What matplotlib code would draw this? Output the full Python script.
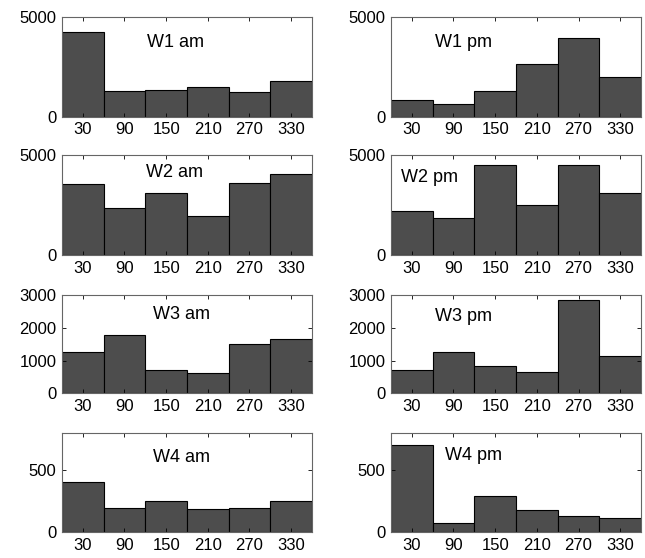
import matplotlib
matplotlib.use("Agg")
import matplotlib.pyplot as plt

plt.rcParams["font.family"] = ["Liberation Sans", "DejaVu Sans"]

centers = [30, 90, 150, 210, 270, 330]
tick_labels = ["30", "90", "150", "210", "270", "330"]

w1_am = [4220, 1300, 1310, 1470, 1220, 1770]
w1_pm = [830, 620, 1300, 2620, 3930, 2000]
w2_am = [3570, 2370, 3100, 1950, 3600, 4070]
w2_pm = [2180, 1840, 4470, 2510, 4470, 3120]
w3_am = [1260, 1770, 700, 610, 1500, 1650]
w3_pm = [720, 1260, 830, 640, 2870, 1150]
w4_am = [410, 200, 250, 185, 200, 250]
w4_pm = [705, 72, 297, 184, 128, 112]

titles = ["W1 am", "W1 pm", "W2 am", "W2 pm", "W3 am", "W3 pm", "W4 am", "W4 pm"]
series = [w1_am, w1_pm, w2_am, w2_pm, w3_am, w3_pm, w4_am, w4_pm]
ylims = [5000, 5000, 5000, 5000, 3000, 3000, 800, 800]
yticks = [[0, 5000], [0, 5000], [0, 5000], [0, 5000],
          [0, 1000, 2000, 3000], [0, 1000, 2000, 3000], [0, 500], [0, 500]]
# title positions in axes fraction
title_pos = [(0.455, 0.74), (0.29, 0.74), (0.45, 0.82), (0.155, 0.77),
             (0.48, 0.80), (0.29, 0.78), (0.48, 0.76), (0.33, 0.78)]

fig = plt.figure(figsize=(6.45, 5.58), dpi=100)
lefts = [0.0961, 0.6062]
bottoms = [0.791, 0.5425, 0.2952, 0.046]
heights = [0.179, 0.18, 0.1756, 0.1774]
width = 0.3876

for i, vals in enumerate(series):
    row, col = divmod(i, 2)
    ax = fig.add_axes([lefts[col], bottoms[row], width, heights[row]])
    ax.bar(centers, vals, width=60, color="#4d4d4d", edgecolor="black", linewidth=0.8)
    ax.set_xlim(0, 360)
    ax.set_ylim(0, ylims[i])
    ax.set_xticks(centers)
    ax.set_xticklabels(tick_labels)
    ax.set_yticks(yticks[i])
    ax.tick_params(direction="in", top=True, right=True, length=3, width=0.6,
                   labelsize=12, pad=4)
    for s in ax.spines.values():
        s.set_color("#666666")
        s.set_linewidth(0.8)
    ax.text(title_pos[i][0], title_pos[i][1], titles[i], transform=ax.transAxes,
            ha="center", va="center", fontsize=13)

fig.savefig("out.png", dpi=100)
